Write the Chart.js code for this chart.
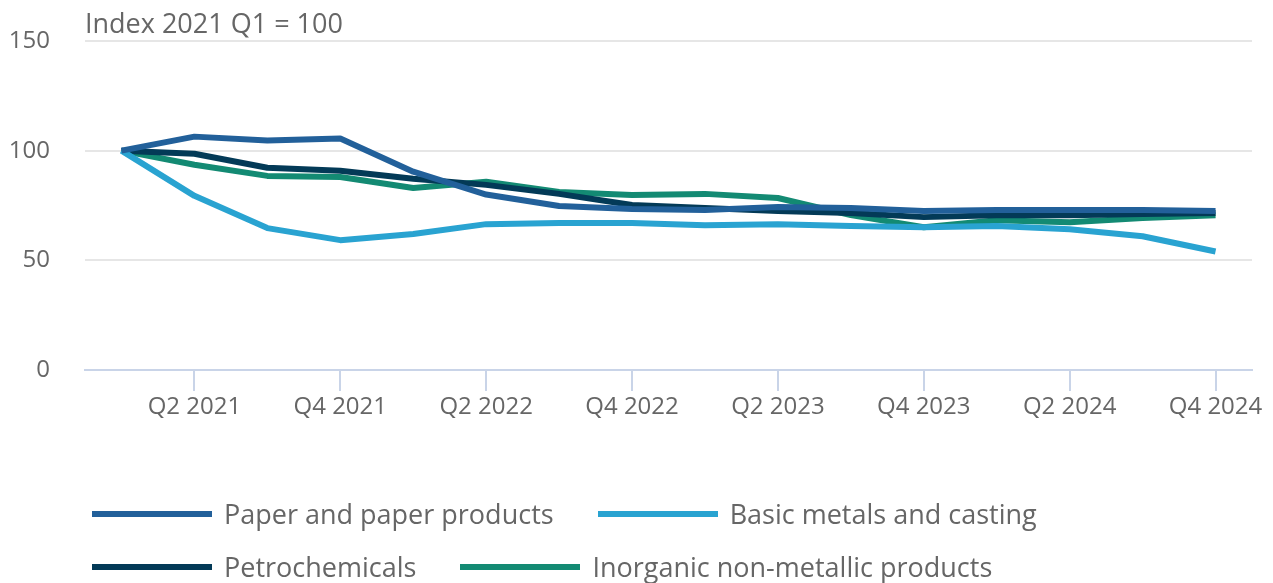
<!DOCTYPE html>
<html>
<head>
<meta charset="utf-8">
<script src="https://cdn.jsdelivr.net/npm/chart.js@4/dist/chart.umd.min.js"></script>
<style>
    html, body { margin: 0; padding: 0; background: #fff; }
    #wrap { position: relative; width: 1273px; height: 583px; font-family: "Open Sans", sans-serif; }
    #legend { position: absolute; left: 92px; top: 487px; width: 1000px; display: flex; flex-wrap: wrap; column-gap: 44px; }
    .legend-item { display: flex; align-items: center; height: 53px; }
    .legend-line { width: 120px; height: 6px; margin-right: 12px; }
    .legend-text { font-size: 27px; color: #666; white-space: nowrap; }
</style>
</head>
<body>
<div id="wrap">
    <canvas id="chart" width="1273" height="583"></canvas>
    <div id="legend"></div>
</div>
<script>
const quarters = [
    'Q1 2021', 'Q2 2021', 'Q3 2021', 'Q4 2021',
    'Q1 2022', 'Q2 2022', 'Q3 2022', 'Q4 2022',
    'Q1 2023', 'Q2 2023', 'Q3 2023', 'Q4 2023',
    'Q1 2024', 'Q2 2024', 'Q3 2024', 'Q4 2024'
];

const paper = [100, 106.4, 104.6, 105.5, 90.4, 80, 74.8, 73.4, 72.9, 74.3, 73.9, 72.5, 72.9, 72.9, 72.9, 72.5];
const basicMetals = [100, 79.4, 64.7, 59.2, 62, 66.5, 67, 67, 66, 66.5, 65.6, 65.1, 65.6, 64.2, 61, 54];
const petrochemicals = [100, 98.6, 92.2, 90.8, 87.2, 84.4, 80.3, 75.2, 73.9, 72.5, 71.6, 69.7, 70.6, 70.6, 71.1, 71.6];
const inorganic = [100, 93.6, 88.5, 88, 83, 85.8, 81.2, 79.8, 80.3, 78.4, 70.6, 65.1, 68.3, 67.4, 69.3, 70.6];

const yTicks = [0, 50, 100, 150];
const yTitle = 'Index 2021 Q1 = 100';

const series = [
    { label: 'Paper and paper products', data: paper, color: '#22609a' },
    { label: 'Basic metals and casting', data: basicMetals, color: '#29a3d1' },
    { label: 'Petrochemicals', data: petrochemicals, color: '#033a57' },
    { label: 'Inorganic non-metallic products', data: inorganic, color: '#138a73' }
];

const textColor = '#666666';
const axisColor = '#c9d4e8';
const font = '"Open Sans", sans-serif';

// unit label above the plot, aligned with the left edge of the chart area
const titlePlugin = {
    id: 'unitTitle',
    afterDraw(chart) {
        const ctx = chart.ctx;
        ctx.save();
        ctx.font = `27px ${font}`;
        ctx.fillStyle = textColor;
        ctx.textBaseline = 'middle';
        ctx.fillText(yTitle, chart.chartArea.left, 25);
        ctx.restore();
    }
};

new Chart(document.getElementById('chart').getContext('2d'), {
    type: 'line',
    data: {
        labels: quarters,
        datasets: series.map(s => ({
            label: s.label,
            data: s.data,
            borderColor: s.color,
            backgroundColor: s.color,
            borderWidth: 6,
            pointRadius: 0,
            tension: 0,
            borderJoinStyle: 'round'
        }))
    },
    options: {
        responsive: false,
        animation: false,
        layout: { padding: { left: 0, top: 41, right: 21, bottom: 153 } },
        scales: {
            x: {
                offset: true,
                afterFit: scale => { scale.height = 60; },
                border: { color: axisColor, width: 2 },
                grid: {
                    offset: false,
                    drawOnChartArea: false,
                    drawTicks: true,
                    tickLength: 21,
                    lineWidth: 2,
                    color: c => (c.index % 2 === 1 ? axisColor : 'rgba(0,0,0,0)')
                },
                ticks: {
                    autoSkip: false,
                    maxRotation: 0,
                    padding: 2,
                    color: textColor,
                    font: { family: font, size: 24 },
                    callback: (v, i) => (i % 2 === 1 ? quarters[i] : '')
                }
            },
            y: {
                min: 0,
                max: 150,
                afterFit: scale => {
                    scale.width = 85;
                    scale.paddingTop = 0;
                    scale.paddingBottom = 0;
                },
                afterBuildTicks: scale => { scale.ticks = yTicks.map(v => ({ value: v })); },
                border: { display: false },
                grid: { color: '#e6e6e6', lineWidth: 2, drawTicks: false },
                ticks: {
                    padding: 35,
                    color: textColor,
                    font: { family: font, size: 24 }
                }
            }
        },
        plugins: {
            legend: { display: false },
            tooltip: { enabled: false }
        }
    },
    plugins: [titlePlugin]
});

// legend below the chart
const legend = document.getElementById('legend');
series.forEach(s => {
    const item = document.createElement('div');
    item.className = 'legend-item';
    item.innerHTML = `<span class="legend-line" style="background:${s.color}"></span><span class="legend-text">${s.label}</span>`;
    legend.appendChild(item);
});
</script>
</body>
</html>
